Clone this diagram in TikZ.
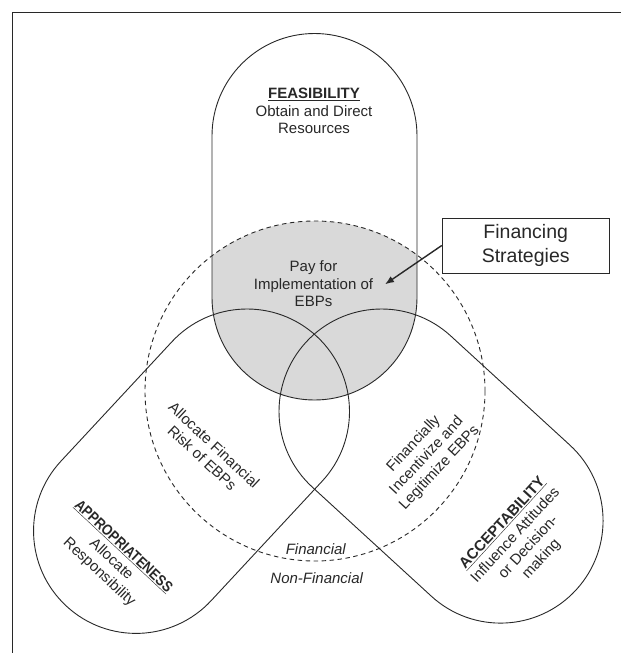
\documentclass[tikz,border=0pt]{standalone}
\usepackage{fontspec}
\usepackage{graphicx}
\setmainfont{Liberation Sans}
\usetikzlibrary{arrows.meta}
\definecolor{shadegray}{RGB}{217,217,217}
\definecolor{ink}{RGB}{40,40,40}
\begin{document}
\begin{tikzpicture}[x=1pt,y=-1pt,
  outline/.style={draw=ink, line width=0.9pt},
  dashring/.style={draw=ink, line width=0.9pt, dash pattern=on 4.5pt off 3.5pt},
  lbl/.style={font=\fontsize{15}{17.6}\selectfont, align=center, text=ink, inner sep=0pt},
  ital/.style={font=\fontsize{15}{17.6}\selectfont\itshape, text=ink, inner sep=0pt},
  boxlbl/.style={draw=ink, line width=0.9pt, fill=white, font=\fontsize{19.5}{24}\selectfont, align=center, minimum width=167pt, minimum height=55pt, inner sep=0pt, text=ink},
  pointer/.style={draw=ink, line width=1.4pt, -{Latex[length=9pt,width=7pt]}}
]
\useasboundingbox (0,0) rectangle (621,653);
\fill[white] (0,0) rectangle (621,653);
\draw[ink, line width=0.9pt] (12,653) -- (12,12) -- (621,12);

% shaded overlap of feasibility and financial circle
\begin{scope}
  \clip (315,391) circle[radius=170];
  \fill[shadegray] (212,136) arc[start angle=180,end angle=360,radius=102.5] -- (417,297.5) arc[start angle=0,end angle=180,radius=102.5] -- cycle;
\end{scope}

% feasibility capsule
\draw[outline] (212,136) arc[start angle=180,end angle=360,radius=102.5] -- (417,297.5) arc[start angle=0,end angle=180,radius=102.5] -- cycle;

% appropriateness capsule
\begin{scope}[shift={(247,411.5)}, rotate=-132.9]
  \draw[outline] (0,-102.5) -- (163,-102.5) arc[start angle=-90,end angle=90,radius=102.5] -- (0,102.5) arc[start angle=90,end angle=270,radius=102.5] -- cycle;
\end{scope}

% acceptability capsule
\begin{scope}[shift={(381.5,411.5)}, rotate=-42.5]
  \draw[outline] (0,-102.5) -- (161.5,-102.5) arc[start angle=-90,end angle=90,radius=102.5] -- (0,102.5) arc[start angle=90,end angle=270,radius=102.5] -- cycle;
\end{scope}

% financial circle
\draw[dashring] (315,391) circle[radius=170];

% labels
\node[lbl] (fea) at (314,111) {\underline{\textbf{FEASIBILITY}}\\Obtain and Direct\\Resources};
\node[lbl] (pay) at (313.5,284) {Pay for\\Implementation of\\EBPs};
\node[lbl, rotate=-43] (alloc) at (208.3,451.5) {Allocate Financial\\Risk of EBPs};
\node[lbl, rotate=47] (finc) at (426.7,455.8) {Financially\\Incentivize and\\Legitimize EBPs};
\node[lbl, rotate=-43] (appr) at (111,559.7) {\underline{\scalebox{0.86}[1]{\textbf{APPROPRIATENESS}}}\\Allocate\\Responsibility};
\node[lbl, rotate=47.5] (acc) at (522.3,541.4) {\underline{\textbf{ACCEPTABILITY}}\\Influence Attitudes\\or Decision-\\making};
\node[ital] (fin) at (315.8,549) {Financial};
\node[ital] (nonfin) at (316.7,578.3) {Non-Financial};

% callout
\node[boxlbl] (fs) at (525.7,245.5) {Financing\\Strategies};
\coordinate (tip) at (385,284.3);
\draw[pointer] (fs.west) -- (tip);
\end{tikzpicture}
\end{document}
